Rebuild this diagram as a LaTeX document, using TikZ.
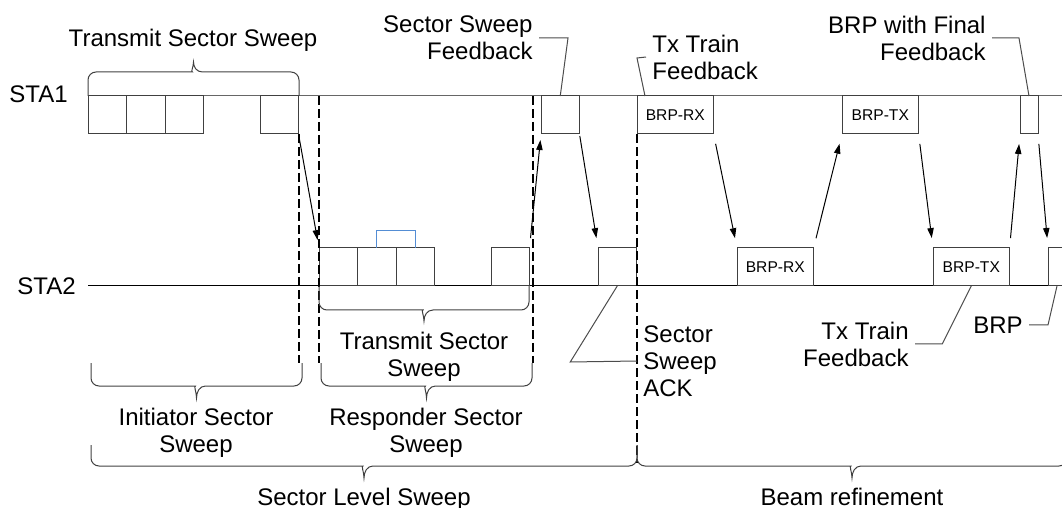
\documentclass[tikz,border=0pt]{standalone}
\usepackage{fontspec}
\setmainfont{Liberation Sans}
\usetikzlibrary{arrows.meta,positioning}

\definecolor{grpblue}{RGB}{84,141,212}

% curly brace: ends x1,x2; arm end y; bar y; tip y
\newcommand{\curlybrace}[5]{%
  \draw[brace line] (#1,#3) [rounded corners=4pt] -- (#1,#4) -- ({(#1+#2)/2-9},#4) [sharp corners]
    .. controls ({(#1+#2)/2-3},#4) and ({(#1+#2)/2},{(#4+#5)/2}) .. ({(#1+#2)/2},#5)
    .. controls ({(#1+#2)/2},{(#4+#5)/2}) and ({(#1+#2)/2+3},#4) .. ({(#1+#2)/2+9},#4)
    [rounded corners=4pt] -- (#2,#4) -- (#2,#3);}

\begin{document}
\begin{tikzpicture}[x=0.5pt,y=-0.5pt,>={Triangle[length=5pt,width=3.2pt]},
  every node/.style={font=\fontsize{12}{13.5}\selectfont},
  slot/.style={draw=black!75,line width=0.5pt,minimum width=19.25pt,minimum height=19pt,inner sep=0pt,outer sep=0pt},
  brp/.style={slot,minimum width=38.3pt,font=\fontsize{7.8}{9}\selectfont},
  narrow slot/.style={slot,minimum width=9pt},
  msg/.style={->,line width=0.5pt,shorten <=5pt,shorten >=5pt},
  bound/.style={line width=1pt,dash pattern=on 4.5pt off 2pt},
  lead/.style={draw=black!70,line width=0.5pt},
  brace line/.style={draw=black!75,line width=0.5pt},
  tag/.style={inner xsep=3pt,inner ysep=0pt}]
  \useasboundingbox (0,0) rectangle (1062,508);
  \clip (0,0) rectangle (1062,508);

  % Stations
  \node[anchor=east,inner sep=0pt] (sta1) at (68,94) {STA1};
  \node[anchor=east,inner sep=0pt] (sta2) at (76,286) {STA2};
  \coordinate (t1a) at (88,96);  \coordinate (t1b) at (1062,96);
  \coordinate (t2a) at (88,286); \coordinate (t2b) at (1062,286);
  \draw[black!60,line width=0.5pt] (t1a) -- (t1b);
  \draw[line width=0.5pt] (t2a) -- (t2b);

  % Frames of STA1
  \node[slot,anchor=north west] (a1) at (88,96) {};
  \node[slot,right=0pt of a1] (a2) {};
  \node[slot,right=0pt of a2] (a3) {};
  \node[slot,anchor=north west] (a4) at (260,96) {};
  \node[slot,anchor=north west] (fb) at (541,96) {};
  \node[brp,anchor=north west] (rx1) at (637,96) {BRP-RX};
  \node[brp,anchor=north west] (tx1) at (842,96) {BRP-TX};
  \node[narrow slot,anchor=north west] (fin1) at (1020,96) {};

  % Frames of STA2
  \node[slot,anchor=south west] (b1) at (319,286) {};
  \node[slot,right=0pt of b1] (b2) {};
  \node[slot,right=0pt of b2] (b3) {};
  \node[slot,anchor=south west] (b4) at (491,286) {};
  \node[slot,anchor=south west] (ack) at (598,286) {};
  \node[brp,anchor=south west] (rx2) at (737,286) {BRP-RX};
  \node[brp,anchor=south west] (tx2) at (933,286) {BRP-TX};
  \node[narrow slot,anchor=south west] (fin2) at (1048,286) {};
  \draw[grpblue,line width=0.5pt] (b2.north) -- ++(0,-17) -| (b3.north);

  % Phase boundaries
  \draw[bound] (a4.south east) -- ++(0,229);
  \draw[bound] (b1.west |- t1a) -- ++(0,267);
  \draw[bound] ([xshift=1.5pt]b4.east |- t1a) -- ++(0,267);
  \draw[bound] (rx1.south west) -- ++(0,329);

  % Frame exchange
  \draw[msg,shorten <=1pt,shorten >=4pt] (a4.south east) -- (b1.north west);
  \draw[msg,shorten >=3pt] (b4.north east) -- (fb.south west);
  \draw[msg,shorten <=1pt] (fb.south east) -- (ack.north west);
  \draw[msg] (rx1.south east) -- (rx2.north west);
  \draw[msg] (rx2.north east) -- (tx1.south west);
  \draw[msg] (tx1.south east) -- (tx2.north west);
  \draw[msg] (tx2.north east) -- (fin1.south west);
  \draw[msg] (fin1.south east) -- (fin2.north west);

  % Braces
  \curlybrace{88}{299}{96}{72}{62}
  \curlybrace{319}{529}{286}{310}{321}
  \curlybrace{91}{302}{363}{386}{398}
  \curlybrace{321}{532}{363}{386}{398}
  \curlybrace{91}{637}{445}{466}{478}
  \curlybrace{637}{1067}{445}{466}{478}

  \node (tss1) at (193,40) {Transmit Sector Sweep};
  \node[align=center] (tss2) at (424,357) {Transmit Sector\\Sweep};
  \node[align=center] (iss) at (196,433) {Initiator Sector\\Sweep};
  \node[align=center] (rss) at (426,433) {Responder Sector\\Sweep};
  \node[anchor=base] (sls) at (364,505) {Sector Level Sweep};
  \node[anchor=base] (bref) at (852,505) {Beam refinement};

  % Callouts
  \node[tag,anchor=east,align=right] (ssfb) at (539,38) {Sector Sweep\\Feedback};
  \node[tag,anchor=west,align=left] (ttfb1) at (646,57) {Tx Train\\Feedback};
  \node[tag,anchor=east,align=right] (fin) at (992,38) {BRP with Final\\Feedback};
  \node[tag,anchor=west,align=left] (ssack) at (637,361) {Sector\\Sweep\\ACK};
  \node[tag,anchor=east,align=right] (ttfb2) at (915,344) {Tx Train\\Feedback};
  \node[tag,anchor=east] (brptag) at (1029,325) {BRP};

  \draw[lead] (ssfb.east) -- ++(29,0) -- (fb.north);
  \draw[lead] ([xshift=4pt]rx1.north west) -- ++(-8,-38) -- (ttfb1.west);
  \draw[lead] (fin.east) -- ++(27,0) -- (fin1.north);
  \draw[lead] (ack.south) -- ++(-47,76) -- (ssack.west);
  \draw[lead] (tx2.south) -- ++(-29,58) -- (ttfb2.east);
  \draw[lead] (fin2.south) -- ++(-9,39) -- (brptag.east);
\end{tikzpicture}
\end{document}
